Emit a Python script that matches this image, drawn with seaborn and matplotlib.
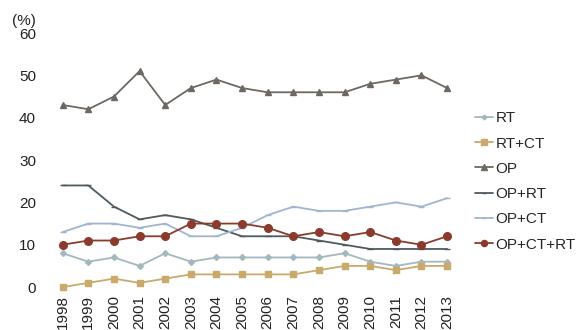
import matplotlib
matplotlib.use("Agg")
import matplotlib.pyplot as plt
import seaborn as sns
import pandas as pd

years = list(range(1998, 2014))

rt = [8, 6, 7, 5, 8, 6, 7, 7, 7, 7, 7, 8, 6, 5, 6, 6]
rt_ct = [0, 1, 2, 1, 2, 3, 3, 3, 3, 3, 4, 5, 5, 4, 5, 5]
op = [43, 42, 45, 51, 43, 47, 49, 47, 46, 46, 46, 46, 48, 49, 50, 47]
op_rt = [24, 24, 19, 16, 17, 16, 14, 12, 12, 12, 11, 10, 9, 9, 9, 9]
op_ct = [13, 15, 15, 14, 15, 12, 12, 14, 17, 19, 18, 18, 19, 20, 19, 21]
op_ct_rt = [10, 11, 11, 12, 12, 15, 15, 15, 14, 12, 13, 12, 13, 11, 10, 12]

series_names = ["RT", "RT+CT", "OP", "OP+RT", "OP+CT", "OP+CT+RT"]
series_values = [rt, rt_ct, op, op_rt, op_ct, op_ct_rt]
y_ticks = [0, 10, 20, 30, 40, 50, 60]

colors = {
    "RT": "#a3b8bd",
    "RT+CT": "#c9a96c",
    "OP": "#6d6962",
    "OP+RT": "#4f5a5f",
    "OP+CT": "#a0b5d0",
    "OP+CT+RT": "#8b3b2d",
}
markers = {
    "RT": "D",
    "RT+CT": "s",
    "OP": "^",
    "OP+RT": "_",
    "OP+CT": "_",
    "OP+CT+RT": "o",
}
sizes = {"RT": 3, "RT+CT": 5, "OP": 5, "OP+RT": 4, "OP+CT": 4, "OP+CT+RT": 5.5}

rows = []
for name, vals in zip(series_names, series_values):
    for i, v in enumerate(vals):
        rows.append({"idx": i, "value": v, "series": name})
df = pd.DataFrame(rows)

sns.set_style("white")
plt.rcParams["font.family"] = ["Liberation Sans", "DejaVu Sans"]

fig = plt.figure(figsize=(5.8, 3.3), dpi=100)
ax = fig.add_axes([0.086, 0.130, 0.707, 0.770])

for name in series_names:
    sub = df[df["series"] == name]
    sns.lineplot(
        data=sub, x="idx", y="value", ax=ax,
        color=colors[name], marker=markers[name], markersize=sizes[name],
        markeredgecolor=colors[name], markeredgewidth=1.0,
        linewidth=1.3, label=name, clip_on=False,
    )

ax.set_xlim(-0.5, len(years) - 0.5)
ax.set_ylim(0, 60)
ax.set_yticks(y_ticks)
ax.set_yticklabels([str(t) for t in y_ticks], fontsize=11, color="#222222")
ax.set_xticks(range(len(years)))
ax.set_xticklabels([str(y) for y in years], rotation=90, fontsize=11,
                   color="#222222", va="top")
ax.tick_params(axis="both", length=0)
ax.tick_params(axis="x", pad=6)
ax.tick_params(axis="y", pad=10)
ax.set_xlabel("")
ax.set_ylabel("")
for s in ax.spines.values():
    s.set_visible(False)

fig.text(0.02, 0.925, "(%)", fontsize=11, color="#222222")

handles, labels = ax.get_legend_handles_labels()
ax.legend(handles, labels, loc="upper left", bbox_to_anchor=(0.819, 0.663),
          bbox_transform=fig.transFigure, frameon=False, fontsize=11,
          handlelength=1.2, handletextpad=0.15, labelspacing=0.74,
          borderpad=0, borderaxespad=0, markerscale=0.8)

fig.savefig("out.png", dpi=100)
